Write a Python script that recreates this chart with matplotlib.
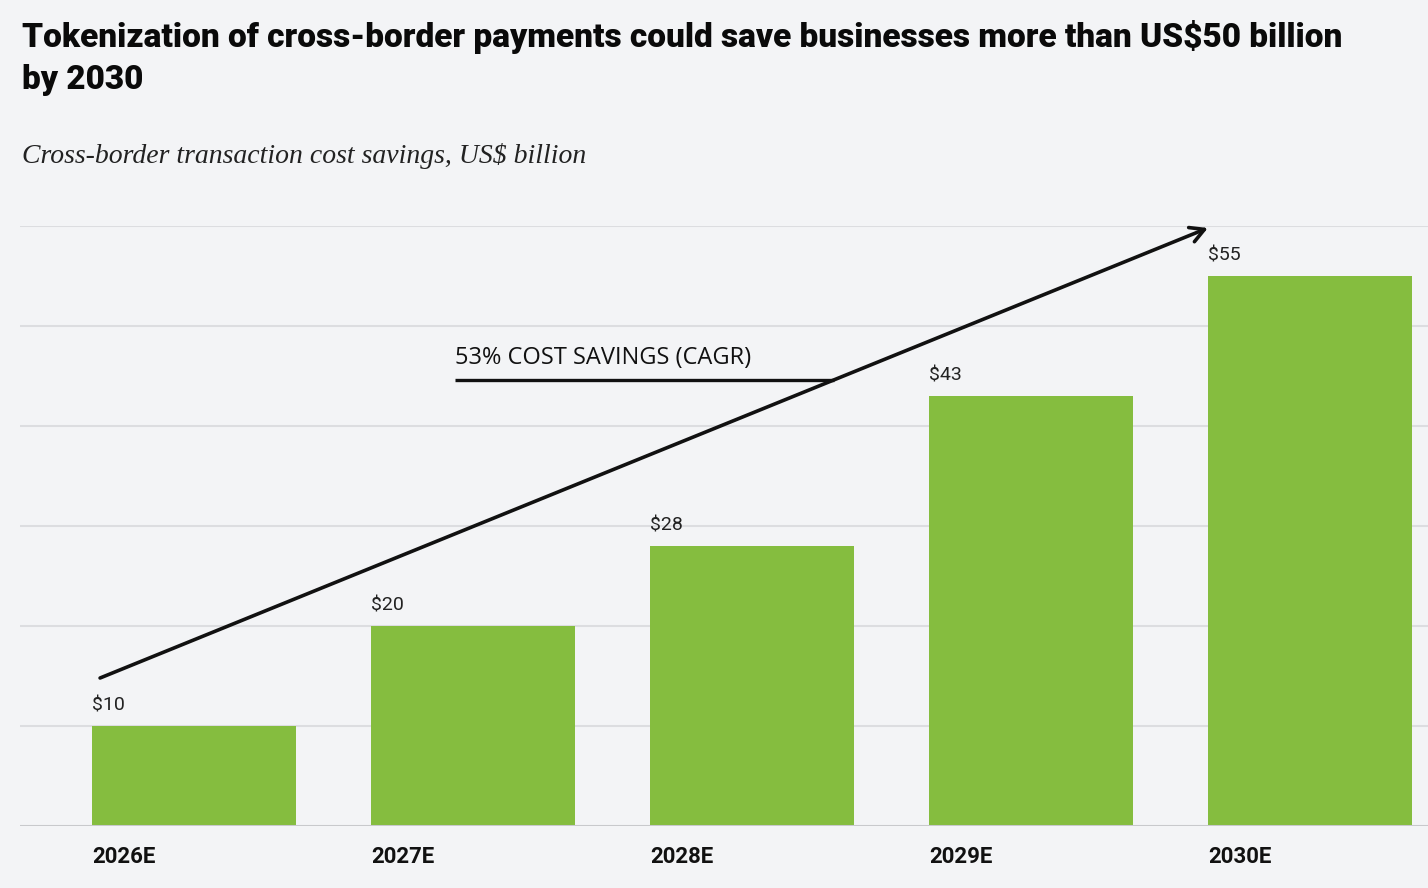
import matplotlib.pyplot as plt

# -------------------------
# Data
# -------------------------
years = ['2026E', '2027E', '2028E', '2029E', '2030E']
savings = [10, 20, 28, 43, 55]
value_labels = ['$10', '$20', '$28', '$43', '$55']

title = "Tokenization of cross-border payments could save businesses more than US$50 billion\nby 2030"
subtitle = "Cross-border transaction cost savings, US$ billion"
note = "53% COST SAVINGS (CAGR)"

# -------------------------
# Style
# -------------------------
bg = '#f3f4f6'
green = '#85bd3f'
grid_col = '#dcdde0'

fig = plt.figure(figsize=(14.28, 8.88), dpi=100, facecolor=bg)
ax = fig.add_axes([20/1428, 62/888, 1 - 20/1428, 600/888])
ax.set_facecolor(bg)

x = list(range(len(years)))
bar_w = 0.731
ax.bar(x, savings, width=bar_w, align='edge', color=green, zorder=3)

ax.set_xlim(-0.258, 4.789)
ax.set_ylim(0, 60)

# gridlines
ax.set_yticks([10, 20, 30, 40, 50, 60])
ax.yaxis.grid(True, color=grid_col, lw=1.5, zorder=0)
ax.tick_params(axis='y', left=False, labelleft=False)
ax.axhline(0, color='#c8c9cc', lw=2.2, zorder=4)
for s in ax.spines.values():
    s.set_visible(False)

ax.set_xticks(x)
ax.set_xticklabels(years, ha='left', fontsize=16, fontweight='bold',
                   family='Roboto', color='#111111')
ax.tick_params(axis='x', bottom=False, pad=11)

# value labels
for xi, v, lab in zip(x, savings, value_labels):
    ax.annotate(lab, (xi, v), xytext=(0, 8), textcoords='offset points',
                ha='left', va='bottom', fontsize=14, family='Roboto',
                color='#222222')

# CAGR arrow and note
ax.annotate('', xy=(4.0, 59.8), xytext=(0.029, 14.8),
            arrowprops=dict(arrowstyle='->,head_length=1.0,head_width=0.55',
                            lw=2.6, color='#111111', shrinkA=0, shrinkB=0),
            annotation_clip=False, zorder=5)
ax.plot([1.301, 2.66], [44.6, 44.6], color='#111111', lw=2.4, zorder=5,
        solid_capstyle='butt')
ax.text(1.301, 45.6, note, ha='left', va='bottom', fontsize=17,
        family='Open Sans', color='#111111', zorder=5)

# titles
fig.text(22/1428, 1 - 20/888, title, ha='left', va='top', fontsize=24,
         fontweight='heavy', family='Roboto', color='#0a0a0a',
         linespacing=1.4)
fig.text(22/1428, 1 - 163/888, subtitle, ha='left', va='baseline',
         fontsize=20, style='italic', family='Liberation Serif',
         color='#222222')

fig.savefig('out.png', dpi=100, facecolor=bg)
